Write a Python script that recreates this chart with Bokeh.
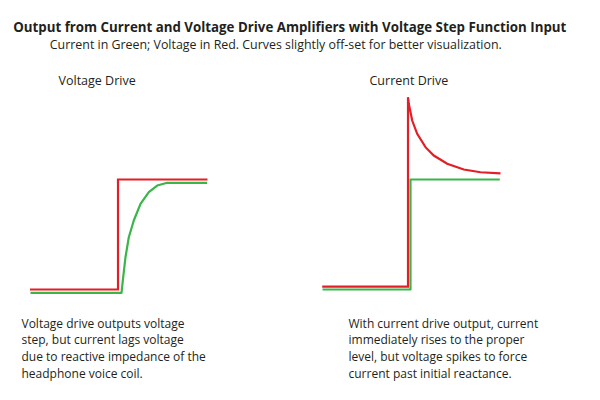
from bokeh.plotting import figure
from bokeh.layouts import column, row
from bokeh.models import Range1d, Label
from bokeh.embed import file_html
from bokeh.resources import INLINE

# ---------------- data ----------------
title_text = "Output from Current and Voltage Drive Amplifiers with Voltage Step Function Input"
subtitle_text = "Current in Green; Voltage in Red. Curves slightly off-set for better visualization."
panel_titles = ["Voltage Drive", "Current Drive"]
captions_left = [
    "Voltage drive outputs voltage",
    "step, but current lags voltage",
    "due to reactive impedance of the",
    "headphone voice coil.",
]
captions_right = [
    "With current drive output, current",
    "immediately rises to the proper",
    "level, but voltage spikes to force",
    "current past initial reactance.",
]

# Voltage drive panel (time in arbitrary units, step at t = 0; normalized amplitude)
vd_voltage_t = [-8.8, 0.0, 0.0, 8.95]
vd_voltage_v = [0.0, 0.0, 1.0, 1.0]
vd_current_t = [-8.75, 0.35, 0.52, 0.75, 1.08, 1.58, 2.25, 3.08, 3.92, 4.92, 8.92]
vd_current_v = [-0.03, -0.03, 0.112, 0.294, 0.475, 0.627, 0.779, 0.885, 0.945, 0.97, 0.97]

# Current drive panel
cd_voltage_t = [-8.58, 0.0, 0.0, 0.08, 0.42, 0.92, 1.75, 2.58, 3.92, 5.58, 7.25, 9.25]
cd_voltage_v = [0.027, 0.027, 1.748, 1.688, 1.536, 1.415, 1.294, 1.218, 1.143, 1.091, 1.066, 1.055]
cd_current_t = [-8.55, 0.25, 0.25, 9.18]
cd_current_v = [0.0, 0.0, 1.0, 1.0]

RED = "#e31e26"
GREEN = "#3ab54a"
TEXT = "#231f20"
FONT = "Open Sans"


def blank_fig(w, h, xr, yr):
    p = figure(width=w, height=h, x_range=xr, y_range=yr,
               output_backend="svg", toolbar_location=None,
               x_axis_type=None, y_axis_type=None,
               min_border=0, min_border_left=0, min_border_right=0,
               min_border_top=0, min_border_bottom=0)
    p.grid.visible = False
    p.outline_line_color = None
    p.background_fill_color = "white"
    p.border_fill_color = "white"
    return p


def label(p, x, y, text, size, bold=False):
    p.add_layout(Label(x=x, y=y, x_units="screen", y_units="screen", text=text,
                       text_font=FONT, text_font_size=size,
                       text_font_style="bold" if bold else "normal",
                       text_color=TEXT, text_baseline="alphabetic",
                       text_align="left"))


# ---------------- header ----------------
header = blank_fig(600, 60, Range1d(0, 600), Range1d(0, 60))
label(header, 12.7, 34.0, title_text, "13.3px", bold=True)
label(header, 49.3, 16.0, subtitle_text, "12.4px")

# ---------------- panels ----------------
YR = (-1.009, 2.0818)


def panel(xr, vt, vv, ct, cv, ptitle, ptitle_x, caps, caps_x):
    p = blank_fig(300, 340, Range1d(*xr), Range1d(*YR))
    p.line(vt, vv, line_color=RED, line_width=2.2, line_join="miter")
    p.line(ct, cv, line_color=GREEN, line_width=2.2, line_join="round")
    label(p, ptitle_x, 320.0, ptitle, "12.5px")
    for i, c in enumerate(caps):
        label(p, caps_x, 77.5 - 16.8 * i, c, "12px")
    return p


left = panel((-11.75, 18.25), vd_voltage_t, vd_voltage_v, vd_current_t, vd_current_v,
             panel_titles[0], 58, captions_left, 21)
right = panel((-10.75, 19.25), cd_voltage_t, cd_voltage_v, cd_current_t, cd_current_v,
              panel_titles[1], 69, captions_right, 48)

layout = column(header, row(left, right, spacing=0), spacing=0)

open("out.html", "w").write(file_html(layout, INLINE))
